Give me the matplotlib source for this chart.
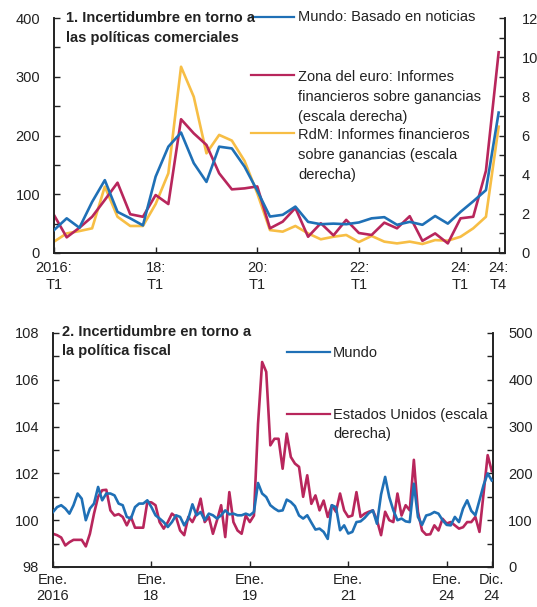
import matplotlib
matplotlib.use("Agg")
import matplotlib.pyplot as plt
from matplotlib.lines import Line2D
import numpy as np

plt.rcParams['font.family'] = ['Liberation Sans', 'DejaVu Sans']

# ---------------- Data: panel 1 (quarterly, 2016:T1 - 2024:T4) ----------------
mundo_noticias = [39, 59, 43, 87, 124, 70, 59, 47, 130, 181, 205, 153, 121, 181, 178, 147,
                  106, 62, 65, 79, 53, 49, 50, 49, 52, 59, 61, 48, 53, 48, 63, 50,
                  70, 88, 107, 239]
zona_euro = [1.94, 0.80, 1.29, 1.85, 2.71, 3.59, 1.98, 1.85, 2.96, 2.50, 6.83, 6.11,
             5.52, 4.07, 3.25, 3.30, 3.40, 1.26, 1.60, 2.30, 0.83, 1.52, 0.90, 1.69,
             1.02, 0.92, 1.55, 1.26, 1.88, 0.62, 1.00, 0.49, 1.77, 1.85, 4.20, 10.25]
rdm = [0.58, 1.00, 1.12, 1.26, 3.39, 1.85, 1.38, 1.38, 2.50, 4.07, 9.51, 7.98,
       5.09, 6.03, 5.74, 4.70, 3.05, 1.17, 1.09, 1.38, 1.00, 0.70, 0.83, 0.92,
       0.56, 0.87, 0.58, 0.49, 0.58, 0.46, 0.66, 0.63, 0.83, 1.26, 1.85, 6.45]
q_ticks = [0, 8, 16, 24, 32, 35]
q_labels = ["2016:\nT1", "18:\nT1", "20:\nT1", "22:\nT1", "24:\nT1", "24:\nT4"]

# ---------------- Data: panel 2 (monthly, Jan 2016 - Dec 2024) ----------------
mundo_fiscal = [100.35, 100.56, 100.64, 100.50, 100.28, 100.64, 101.14, 100.92, 100.00, 100.50,
                100.71, 101.42, 100.85, 101.14, 101.14, 101.06, 100.71, 100.64, 100.14, 100.07,
                100.56, 100.71, 100.71, 100.85, 100.56, 100.21, 100.07, 99.92, 99.71, 99.92,
                100.21, 100.14, 99.78, 100.07, 100.68, 100.21, 100.35, 100.00, 100.28, 100.21,
                100.07, 100.21, 100.42, 100.25, 100.28, 100.21, 100.21, 100.28, 100.21, 100.35,
                101.59, 101.14, 100.99, 100.64, 100.50, 100.39, 100.42, 100.88, 100.78, 100.60,
                100.20, 100.07, 100.21, 99.90, 99.60, 99.64, 99.50, 99.20, 100.64, 100.56,
                99.57, 99.78, 99.43, 99.50, 99.92, 99.95, 100.10, 100.30, 100.42, 99.85,
                101.10, 101.85, 100.99, 100.42, 100.00, 100.07, 99.95, 99.92, 101.56, 100.14,
                99.80, 100.20, 100.25, 100.35, 100.28, 100.00, 99.80, 99.78, 100.14, 99.92,
                100.50, 100.85, 100.40, 100.21, 100.85, 101.50, 102.00, 101.70]
eeuu_fiscal = [71, 68, 63, 46, 53, 58, 58, 58, 44, 71,
               114, 150, 164, 165, 121, 110, 113, 107, 89, 107,
               84, 84, 84, 139, 138, 132, 96, 82, 96, 114,
               107, 78, 68, 107, 96, 114, 146, 96, 107, 71,
               100, 132, 64, 160, 96, 78, 71, 110, 96, 110,
               306, 438, 417, 260, 274, 274, 210, 285, 235, 221,
               214, 150, 196, 135, 153, 121, 142, 107, 132, 118,
               157, 121, 107, 110, 160, 107, 114, 118, 121, 100,
               68, 118, 100, 96, 157, 110, 132, 121, 229, 118,
               78, 69, 70, 89, 78, 103, 93, 96, 89, 82,
               85, 96, 96, 107, 75, 157, 239, 205]
m_ticks = [0, 24, 48, 72, 96, 107]
m_labels = ["Ene.\n2016", "Ene.\n18", "Ene.\n19", "Ene.\n21", "Ene.\n24", "Dic.\n24"]

BLUE = "#1F70B6"
RED = "#B8265C"
YELLOW = "#F7BE45"
FS = 10.5
LW = 1.9
TC = '#222222'

W, H = 537, 607
fig = plt.figure(figsize=(W / 100, H / 100), dpi=100)


def fx(px):
    return px / W


def fy(py):
    return 1 - py / H


def style_axes(ax, ax2, lpad, rpad, xpad):
    for a in (ax, ax2):
        a.spines['top'].set_visible(False)
        for s in ('left', 'right', 'bottom'):
            a.spines[s].set_linewidth(1.2)
            a.spines[s].set_color(TC)
    ax.tick_params(axis='y', which='both', direction='in', length=4, width=1,
                   labelsize=FS, pad=lpad, colors=TC)
    ax2.tick_params(axis='y', which='both', direction='in', length=4, width=1,
                    labelsize=FS, pad=rpad, colors=TC)
    ax.tick_params(axis='x', which='both', direction='in', length=4, width=1,
                   labelsize=FS, pad=xpad, colors=TC)


# ---------------- Panel 1 ----------------
ax1 = fig.add_axes([fx(54), fy(253), fx(505 - 54), (253 - 18) / H])
ax1r = ax1.twinx()
xq = np.arange(len(mundo_noticias))
ax1.plot(xq, mundo_noticias, color=BLUE, lw=LW, zorder=3)
ax1r.plot(xq, zona_euro, color=RED, lw=LW, zorder=2)
ax1r.plot(xq, rdm, color=YELLOW, lw=LW, zorder=1)
ax1.set_xlim(0, 35.5)
ax1.set_ylim(0, 400)
ax1r.set_ylim(0, 12)
ax1.set_yticks([0, 100, 200, 300, 400])
ax1.set_yticks(np.arange(0, 401, 50), minor=True)
ax1r.set_yticks([0, 2, 4, 6, 8, 10, 12])
ax1r.set_yticks(np.arange(0, 13, 1), minor=True)
ax1.set_xticks(q_ticks)
ax1.set_xticklabels(q_labels, linespacing=1.3)
style_axes(ax1, ax1r, 10, 12, 5.5)
ax1.set_zorder(ax1r.get_zorder() + 1)
ax1.patch.set_visible(False)

# ---------------- Panel 2 ----------------
ax2 = fig.add_axes([fx(53), fy(567), fx(493 - 53), (567 - 333) / H])
ax2r = ax2.twinx()
xm = np.arange(len(mundo_fiscal))
ax2r.plot(xm, eeuu_fiscal, color=RED, lw=LW, zorder=1)
ax2.plot(xm, mundo_fiscal, color=BLUE, lw=LW, zorder=3)
ax2.set_xlim(0, 107.3)
ax2.set_ylim(98, 108)
ax2r.set_ylim(0, 500)
ax2.set_yticks([98, 100, 102, 104, 106, 108])
ax2.set_yticks(np.arange(98, 108.1, 1), minor=True)
ax2r.set_yticks([0, 100, 200, 300, 400, 500])
ax2r.set_yticks(np.arange(0, 501, 50), minor=True)
ax2.set_xticks(m_ticks)
ax2.set_xticklabels(m_labels, linespacing=1.2)
style_axes(ax2, ax2r, 10, 11, 4)
ax2.set_zorder(ax2r.get_zorder() + 1)
ax2.patch.set_visible(False)

# ---------------- Titles ----------------
fig.text(fx(66), fy(18), "1. Incertidumbre en torno a", fontsize=FS, fontweight='bold',
         va='center', ha='left', color=TC)
fig.text(fx(66), fy(38), "las políticas comerciales", fontsize=FS, fontweight='bold',
         va='center', ha='left', color=TC)
fig.text(fx(62), fy(332), "2. Incertidumbre en torno a", fontsize=FS, fontweight='bold',
         va='center', ha='left', color=TC)
fig.text(fx(62), fy(351), "la política fiscal", fontsize=FS, fontweight='bold',
         va='center', ha='left', color=TC)


# ---------------- Legends ----------------
def legend_entry(x0, x1, y, color, lines, tx, ty0, step=20):
    fig.add_artist(Line2D([fx(x0), fx(x1)], [fy(y), fy(y)], color=color, lw=1.6))
    for k, t in enumerate(lines):
        fig.text(fx(tx), fy(ty0 + k * step), t, fontsize=FS, va='center', ha='left', color=TC)


legend_entry(252, 294, 17, BLUE, ["Mundo: Basado en noticias"], 298, 17)
legend_entry(251, 294, 75, RED, ["Zona del euro: Informes", "financieros sobre ganancias",
                                 "(escala derecha)"], 298, 77)
legend_entry(251, 294, 133, YELLOW, ["RdM: Informes financieros", "sobre ganancias (escala",
                                     "derecha)"], 298, 135)
legend_entry(287, 330, 352, BLUE, ["Mundo"], 333, 353)
legend_entry(287, 330, 414, RED, ["Estados Unidos (escala", "derecha)"], 333, 415, step=19)

fig.savefig("out.png", dpi=100)
